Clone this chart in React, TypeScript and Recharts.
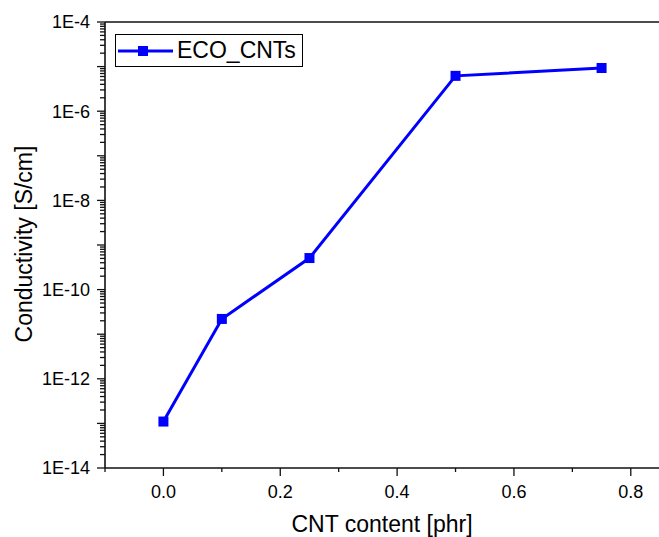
import React from 'react';
import { LineChart, Line, XAxis, YAxis, Legend, ReferenceLine } from 'recharts';

const cntContent = [0, 0.1, 0.25, 0.5, 0.75];
const conductivity = [1.1e-13, 2.2e-11, 5.1e-10, 6.2e-6, 9.3e-6];
const seriesName = 'ECO_CNTs';
const xTicks = [-0.1, 0, 0.1, 0.2, 0.3, 0.4, 0.5, 0.6, 0.7, 0.8];
const xMajor = [0, 0.2, 0.4, 0.6, 0.8];
const yExpMin = -14;
const yExpMax = -4;

const data = cntContent.map((x, i) => ({ x, y: conductivity[i] }));

const yTicks: number[] = [];
for (let e = yExpMin; e < yExpMax; e++) {
  for (let m = 1; m <= 9; m++) yTicks.push(m * Math.pow(10, e));
}
yTicks.push(Math.pow(10, yExpMax));

const FONT = "Arial, 'Liberation Sans', sans-serif";
const AX = '#111';

const YTick = (props: any) => {
  const { x, y, payload } = props;
  const v = payload.value;
  const l = Math.log10(v);
  const r = Math.round(l);
  const major = Math.abs(l - r) < 1e-6;
  const labeled = major && r % 2 === 0;
  return (
    <g>
      <line x1={x} x2={x - (major ? 8 : 5)} y1={y} y2={y} stroke={AX} strokeWidth={1.3} />
      {labeled && (
        <text x={x - 15} y={y} dy="0.36em" textAnchor="end" fontSize={18} fontFamily={FONT} fill="#000">
          {`1E${r}`}
        </text>
      )}
    </g>
  );
};

const XTick = (props: any) => {
  const { x, y, payload } = props;
  const v = payload.value;
  const major = xMajor.some((m) => Math.abs(m - v) < 1e-9);
  return (
    <g>
      <line x1={x} x2={x} y1={y} y2={y + (major ? 8 : 4)} stroke={AX} strokeWidth={1.3} />
      {major && (
        <text x={x} y={y + 30} textAnchor="middle" fontSize={18} fontFamily={FONT} fill="#000">
          {v.toFixed(1)}
        </text>
      )}
    </g>
  );
};

const SquareDot = (props: any) => {
  const { cx, cy } = props;
  if (cx == null || cy == null) return null;
  return <rect x={cx - 5} y={cy - 5} width={10} height={10} fill="#0000FF" />;
};

const LegendBox = () => (
  <div
    style={{
      border: '1px solid #000',
      width: 188,
      height: 33,
      boxSizing: 'border-box',
      display: 'flex',
      alignItems: 'center',
      background: '#fff',
    }}
  >
    <svg width={61} height={31} style={{ display: 'block' }}>
      <line x1={2} x2={57} y1={16} y2={16} stroke="#0000FF" strokeWidth={3} />
      <rect x={22} y={11} width={10} height={10} fill="#0000FF" />
    </svg>
    <span style={{ fontFamily: FONT, fontSize: 23, color: '#000', lineHeight: '31px' }}>{seriesName}</span>
  </div>
);

export default function App() {
  return (
    <div style={{ position: 'absolute', left: 0, top: 0, width: 659, height: 537, overflow: 'hidden', background: '#fff' }}>
      <LineChart width={660} height={537} data={data} margin={{ top: 22, right: 0, left: 0, bottom: 0 }}>
        <XAxis
          dataKey="x"
          type="number"
          domain={[-0.1, 0.85]}
          ticks={xTicks}
          interval={0}
          tickSize={0}
          tickMargin={0}
          tickLine={false}
          tick={<XTick />}
          height={69}
          axisLine={{ stroke: AX, strokeWidth: 1.6 }}
          allowDataOverflow
          label={{
            content: () => (
              <text x={382} y={532} textAnchor="middle" fontSize={23} fontFamily={FONT} fill="#000">
                CNT content [phr]
              </text>
            ),
          }}
        />
        <YAxis
          dataKey="y"
          scale="log"
          type="number"
          domain={[1e-14, 1e-4]}
          ticks={yTicks}
          interval={0}
          tickSize={0}
          tickMargin={0}
          tickLine={false}
          tick={<YTick />}
          width={105}
          axisLine={{ stroke: AX, strokeWidth: 1.6 }}
          allowDataOverflow
          label={{
            content: () => (
              <text x={32} y={244} transform="rotate(-90 32 244)" textAnchor="middle" fontSize={23} fontFamily={FONT} fill="#000">
                Conductivity [S/cm]
              </text>
            ),
          }}
        />
        <ReferenceLine y={1e-4} stroke={AX} strokeWidth={1.6} />
        <Legend
          layout="vertical"
          verticalAlign="middle"
          align="center"
          wrapperStyle={{ top: 34, left: 115, width: 190, height: 34 }}
          content={() => <LegendBox />}
        />
        <Line
          dataKey="y"
          name={seriesName}
          stroke="#0000FF"
          strokeWidth={3}
          dot={<SquareDot />}
          activeDot={false}
          isAnimationActive={false}
        />
      </LineChart>
    </div>
  );
}
